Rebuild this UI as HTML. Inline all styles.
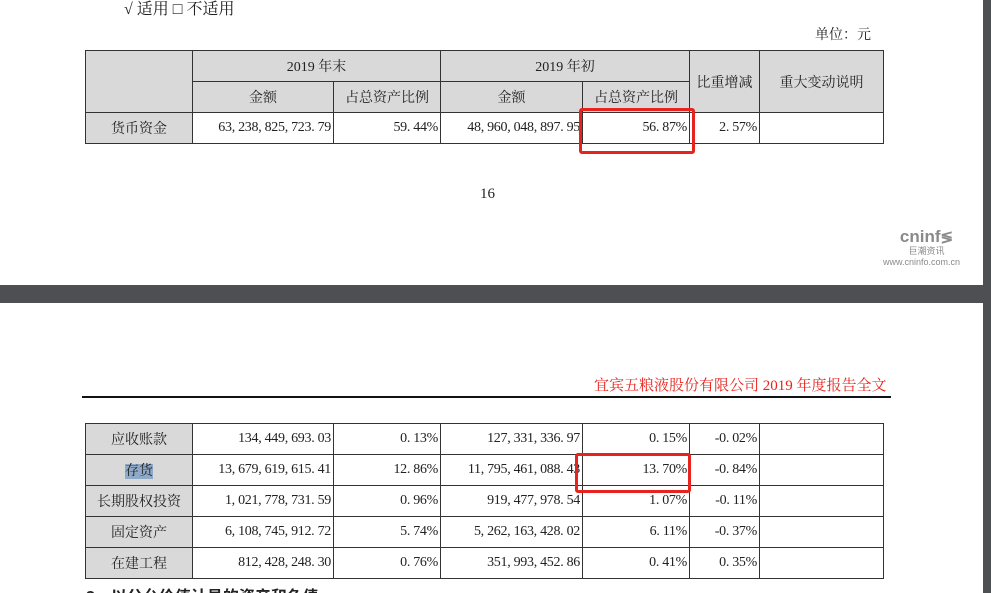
<!DOCTYPE html>
<html><head><meta charset="utf-8">
<style>
html,body{margin:0;width:991px;height:593px;overflow:hidden}
body{background:#4d4f52;position:relative;font-family:"Liberation Serif","Noto Serif CJK SC",serif;color:#222}
.page{position:absolute;left:0;background:#fff;width:983px}
.abs{position:absolute;white-space:nowrap}
table{position:absolute;border-collapse:collapse;font-size:14px;table-layout:fixed}
td{border:1.5px solid #333;padding:0 2px;text-align:right;letter-spacing:-0.3px}
tr{height:31px}
td.h{background:#d9d9d9;text-align:center;letter-spacing:0}
.red{position:absolute;border:3px solid #e8231d;border-radius:3px}
</style></head><body>
<div class="page" style="top:0;height:285px"></div>
<div class="page" style="top:303px;height:290px"></div>

<div class="abs" style="left:124px;top:-4px;font-size:16px">√ 适用 □ 不适用</div>
<div class="abs" style="left:815px;top:24px;font-size:14px">单位：元</div>

<table style="left:85px;top:50px;width:798px">
<colgroup><col style="width:107px"><col style="width:141px"><col style="width:107px"><col style="width:142px"><col style="width:107px"><col style="width:70px"><col style="width:124px"></colgroup>
<tr><td class="h" rowspan="2"></td><td class="h" colspan="2">2019 年末</td><td class="h" colspan="2">2019 年初</td><td class="h" rowspan="2">比重增减</td><td class="h" rowspan="2">重大变动说明</td></tr>
<tr><td class="h">金额</td><td class="h">占总资产比例</td><td class="h">金额</td><td class="h">占总资产比例</td></tr>
<tr><td class="h">货币资金</td><td>63, 238, 825, 723. 79</td><td>59. 44%</td><td>48, 960, 048, 897. 95</td><td>56. 87%</td><td>2. 57%</td><td></td></tr>
</table>
<div class="red" style="left:579px;top:108px;width:110px;height:40px"></div>

<div class="abs" style="left:480px;top:186px;font-size:15px">16</div>
<div class="abs" style="left:893px;top:228px;color:#8a8a8a;font-family:'Liberation Sans',sans-serif;text-align:center;line-height:1">
<div style="font-size:17px;font-weight:bold">cninf<span style="font-size:15px">≶</span></div>
<div style="font-size:9px;margin-top:2px">巨潮资讯</div>
<div style="font-size:9px;margin-top:2px;margin-left:-10px">www.cninfo.com.cn</div></div>

<div class="abs" style="left:594px;top:374px;font-size:15px;color:#e8231d">宜宾五粮液股份有限公司 2019 年度报告全文</div>
<div class="abs" style="left:82px;top:396px;width:809px;height:2px;background:#111"></div>

<table style="left:85px;top:423px;width:798px">
<colgroup><col style="width:107px"><col style="width:141px"><col style="width:107px"><col style="width:142px"><col style="width:107px"><col style="width:70px"><col style="width:124px"></colgroup>
<tr><td class="h">应收账款</td><td>134, 449, 693. 03</td><td>0. 13%</td><td>127, 331, 336. 97</td><td>0. 15%</td><td>-0. 02%</td><td></td></tr>
<tr><td class="h"><span style="background:#8fa9c8">存货</span></td><td>13, 679, 619, 615. 41</td><td>12. 86%</td><td>11, 795, 461, 088. 43</td><td>13. 70%</td><td>-0. 84%</td><td></td></tr>
<tr><td class="h">长期股权投资</td><td>1, 021, 778, 731. 59</td><td>0. 96%</td><td>919, 477, 978. 54</td><td>1. 07%</td><td>-0. 11%</td><td></td></tr>
<tr><td class="h">固定资产</td><td>6, 108, 745, 912. 72</td><td>5. 74%</td><td>5, 262, 163, 428. 02</td><td>6. 11%</td><td>-0. 37%</td><td></td></tr>
<tr><td class="h">在建工程</td><td>812, 428, 248. 30</td><td>0. 76%</td><td>351, 993, 452. 86</td><td>0. 41%</td><td>0. 35%</td><td></td></tr>
</table>
<div class="red" style="left:575px;top:453px;width:110px;height:34px"></div>

<div class="abs" style="left:86px;top:583px;font-size:16px;font-weight:bold;font-family:'Liberation Sans','Noto Sans CJK SC',sans-serif">3、以公允价值计量的资产和负债</div>
</body></html>
